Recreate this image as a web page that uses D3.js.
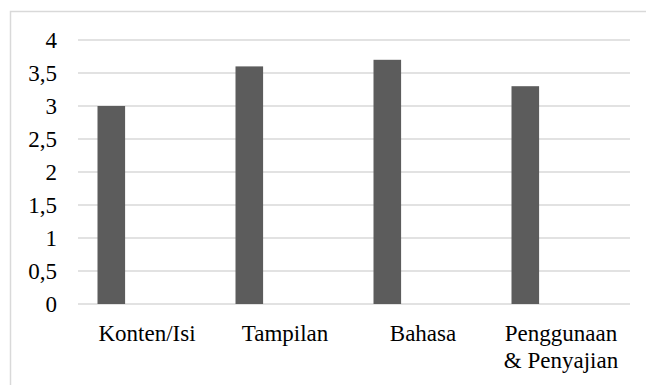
<!DOCTYPE html>
<html>
<head>
<meta charset="utf-8">
<script src="https://cdn.jsdelivr.net/npm/d3@7"></script>
<style>
html, body { margin: 0; padding: 0; background: #fff; overflow: hidden; }
svg { display: block; }
</style>
</head>
<body>
<svg id="chart" width="646" height="385"></svg>
<script>
const categories = ["Konten/Isi", "Tampilan", "Bahasa", "Penggunaan & Penyajian"];
const categoryLines = [["Konten/Isi"], ["Tampilan"], ["Bahasa"], ["Penggunaan", "& Penyajian"]];
const values = [3.0, 3.6, 3.7, 3.3];
const yTicks = [0, 0.5, 1, 1.5, 2, 2.5, 3, 3.5, 4];
const yTickLabels = ["0", "0,5", "1", "1,5", "2", "2,5", "3", "3,5", "4"];

const svg = d3.select("#chart");
const plot = { left: 78, right: 630, top: 40, bottom: 304 };
const fs = 23;
const fontFam = '"Liberation Serif", "Times New Roman", serif';

// outer chart border (only top/left visible, clipped by viewport)
svg.append("rect")
  .attr("x", 10.5).attr("y", 11.5)
  .attr("width", 800).attr("height", 600)
  .attr("fill", "none").attr("stroke", "#d9d9d9").attr("stroke-width", 1.5);

const x = d3.scaleBand().domain(categories).range([plot.left, plot.right]).padding(0);
const y = d3.scaleLinear().domain([0, 4]).range([plot.bottom, plot.top]);

// gridlines
svg.append("g").selectAll("line").data(yTicks).join("line")
  .attr("x1", plot.left).attr("x2", plot.right)
  .attr("y1", d => y(d)).attr("y2", d => y(d))
  .attr("stroke", "#d9d9d9").attr("stroke-width", 1.5);

// y tick labels
svg.append("g").selectAll("text").data(yTicks).join("text")
  .attr("x", 57).attr("y", d => y(d) + 8)
  .attr("text-anchor", "end")
  .style("font-family", fontFam)
  .style("font-size", fs + "px")
  .attr("fill", "#000")
  .text((d, i) => yTickLabels[i]);

// bars (positioned at the left part of each category band)
const barOffset = x.bandwidth() * 0.1413;
const barWidth = x.bandwidth() * 0.2;
svg.append("g").selectAll("rect").data(values).join("rect")
  .attr("x", (d, i) => x(categories[i]) + barOffset)
  .attr("y", d => y(d))
  .attr("width", barWidth)
  .attr("height", d => y(0) - y(d))
  .attr("fill", "#5c5c5c");

// x labels
const xl = svg.append("g").selectAll("text").data(categories).join("text")
  .attr("text-anchor", "middle")
  .style("font-family", fontFam)
  .style("font-size", fs + "px")
  .attr("fill", "#000")
  .attr("transform", d => `translate(${x(d) + x.bandwidth() / 2},341)`);
xl.each(function(d, i) {
  d3.select(this).selectAll("tspan").data(categoryLines[i]).join("tspan")
    .attr("x", 0).attr("y", (t, j) => j * 27)
    .text(t => t);
});
</script>
</body>
</html>
